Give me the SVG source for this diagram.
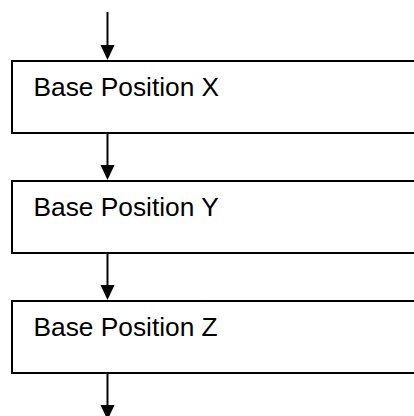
<svg xmlns="http://www.w3.org/2000/svg" width="414" height="416" viewBox="0 0 414 416">
<style>
.box{fill:#fff;stroke:#000;stroke-width:2}
.lbl{font-family:"Liberation Sans",Arial,sans-serif;font-size:26.3px;fill:#000}
.conn{stroke:#000;stroke-width:2;fill:none}
.head{fill:#000}
</style>
<rect width="414" height="416" fill="#fff"/>
<g id="connectors">
<line class="conn" x1="107.5" y1="12" x2="107.5" y2="46"/>
<polygon class="head" points="100.5,45 114.5,45 107.5,60"/>
<line class="conn" x1="107.5" y1="133" x2="107.5" y2="166"/>
<polygon class="head" points="100.5,165 114.5,165 107.5,180"/>
<line class="conn" x1="107.5" y1="253" x2="107.5" y2="286"/>
<polygon class="head" points="100.5,285 114.5,285 107.5,300"/>
<line class="conn" x1="107.5" y1="373" x2="107.5" y2="406"/>
<polygon class="head" points="100.5,405 114.5,405 107.5,420"/>
</g>
<g id="nodeX">
<rect class="box" x="12" y="61" width="430" height="72"/>
<text class="lbl" x="33.5" y="96">Base Position X</text>
</g>
<g id="nodeY">
<rect class="box" x="12" y="181" width="430" height="72"/>
<text class="lbl" x="33.5" y="216">Base Position Y</text>
</g>
<g id="nodeZ">
<rect class="box" x="12" y="301" width="430" height="72"/>
<text class="lbl" x="33.5" y="336">Base Position Z</text>
</g>
</svg>
